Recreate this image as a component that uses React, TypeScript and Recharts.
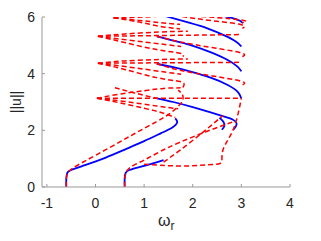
import { LineChart, Line, XAxis, YAxis, Label } from "recharts";

type Pt = [number, number];

const xTicks = [-1, 0, 1, 2, 3, 4];
const yTicks = [0, 2, 4, 6];

// stable branches (solid blue)
const blueLeft: Pt[] = [[-0.6, 0], [-0.6, 0.3], [-0.58, 0.5], [-0.5, 0.6], [-0.2, 0.78], [0.2, 1.03], [0.6, 1.32], [1.0, 1.62], [1.35, 1.9], [1.58, 2.1], [1.68, 2.28], [1.64, 2.42]];
const blueRight: Pt[] = [[0.6, 0], [0.6, 0.3], [0.62, 0.5], [0.7, 0.6], [0.9, 0.7], [1.15, 0.82], [1.4, 0.95]];
const blueLoop1: Pt[] = [[1.26, 3.13], [1.6, 3.0], [2.0, 2.82], [2.35, 2.64], [2.65, 2.48], [2.82, 2.38], [2.9, 2.25], [2.88, 2.12], [2.83, 2.02]];
const blueArc: Pt[] = [[2.55, 2.45], [2.63, 2.3], [2.65, 2.15], [2.6, 2.02]];
const blueLoop2: Pt[] = [[1.26, 4.35], [1.62, 4.22], [1.94, 4.08], [2.38, 3.85], [2.72, 3.6], [2.93, 3.35], [3.0, 3.12]];
const blueLoop3: Pt[] = [[1.26, 5.32], [1.6, 5.17], [1.94, 5.02], [2.35, 4.77], [2.7, 4.5], [2.92, 4.25], [3.0, 4.08]];
const blueLoop4: Pt[] = [[1.3, 6.1], [1.94, 5.79], [2.3, 5.6], [2.65, 5.35], [2.9, 5.12], [3.0, 4.96]];
const blueTop: Pt[] = [[2.5, 6.08], [2.8, 5.97], [2.97, 5.87], [3.03, 5.78]];

// unstable branches (dashed red)
const redLeft: Pt[] = [[-0.6, 0], [-0.6, 0.3], [-0.57, 0.5], [-0.48, 0.65], [-0.2, 0.93], [0.3, 1.4], [0.8, 1.88], [1.25, 2.3], [1.55, 2.62], [1.74, 2.92], [1.8, 3.12], [1.78, 3.28], [1.7, 3.42]];
const redRight: Pt[] = [[0.6, 0], [0.6, 0.3], [0.63, 0.5], [0.72, 0.7], [1.0, 0.95], [1.33, 1.25], [1.74, 1.58], [2.3, 1.97], [2.86, 2.32]];
const redSteep: Pt[] = [[1.4, 0.88], [1.74, 1.3], [2.2, 1.92], [2.62, 2.52]];
const redFloor: Pt[] = [[1.0, 0.8], [1.33, 0.77], [1.8, 0.74], [2.3, 0.78], [2.56, 0.83], [2.6, 0.95]];
const redClimb: Pt[] = [[2.6, 0.95], [2.62, 1.3], [2.72, 1.65], [2.83, 2.02], [2.92, 2.5], [3.0, 3.13]];

const tip1Level: Pt[] = [[0.03, 3.13], [3.0, 3.13]];
const tip1Upper: Pt[] = [[0.03, 3.13], [0.5, 3.28], [1.0, 3.4], [1.4, 3.48], [1.75, 3.5]];
const tip1Mid: Pt[] = [[0.03, 3.13], [0.6, 3.02], [1.26, 2.86], [1.7, 2.76]];
const tip1Lower: Pt[] = [[0.03, 3.13], [0.5, 2.97], [1.0, 2.78], [1.35, 2.63], [1.64, 2.45]];
const cusp1Feed: Pt[] = [[0.4, 3.5], [0.8, 3.32], [1.26, 3.13]];

const tip2Level: Pt[] = [[0.05, 4.37], [3.0, 4.4]];
const tip2Upper: Pt[] = [[0.05, 4.37], [0.6, 4.45], [1.3, 4.5], [1.9, 4.52]];
const tip2Mid: Pt[] = [[0.05, 4.37], [0.7, 4.23], [1.33, 4.08], [1.76, 3.98]];
const tip2Lower: Pt[] = [[0.05, 4.37], [0.6, 4.15], [1.26, 3.86], [1.74, 3.72], [1.82, 3.6], [1.78, 3.45]];
const cusp2Drop: Pt[] = [[1.26, 4.35], [1.74, 4.12], [2.4, 3.92], [3.0, 3.73], [3.02, 3.6]];

const tip3Level: Pt[] = [[0.05, 5.32], [3.0, 5.38]];
const tip3Upper: Pt[] = [[0.05, 5.32], [0.6, 5.4], [1.3, 5.47], [1.9, 5.5]];
const tip3Mid: Pt[] = [[0.05, 5.32], [0.7, 5.18], [1.33, 5.05], [1.76, 4.96]];
const tip3Lower: Pt[] = [[0.05, 5.32], [0.6, 5.1], [1.26, 4.85], [1.74, 4.72], [1.8, 4.6]];
const cusp3Drop: Pt[] = [[1.26, 5.32], [1.74, 5.12], [2.4, 4.92], [3.0, 4.73], [3.02, 4.6]];

const tip4Upper: Pt[] = [[0.37, 5.97], [1.0, 6.0], [1.5, 6.05], [2.0, 6.04], [2.97, 5.9], [3.02, 5.8]];
const tip4Mid: Pt[] = [[0.37, 5.97], [0.9, 5.88], [1.33, 5.8], [1.74, 5.74]];
const tip4Lower: Pt[] = [[0.37, 5.97], [0.9, 5.82], [1.33, 5.67], [1.74, 5.58]];
const cusp4Drop: Pt[] = [[1.3, 6.18], [1.74, 6.03], [2.4, 5.87], [3.0, 5.73], [3.02, 5.6]];

const stable = [blueLeft, blueRight, blueLoop1, blueArc, blueLoop2, blueLoop3, blueLoop4, blueTop];
const unstable = [
  redLeft, redRight, redSteep, redFloor, redClimb,
  tip1Level, tip1Upper, tip1Mid, tip1Lower, cusp1Feed,
  tip2Level, tip2Upper, tip2Mid, tip2Lower, cusp2Drop,
  tip3Level, tip3Upper, tip3Mid, tip3Lower, cusp3Drop,
  tip4Upper, tip4Mid, tip4Lower, cusp4Drop,
];

const toRows = (pts: Pt[]) => pts.map(([x, y]) => ({ x, y }));

const font = "'Liberation Sans', Arial, sans-serif";

export default function App() {
  return (
    <div style={{ position: "absolute", left: 0, top: 0, background: "#fff" }}>
      <LineChart width={321} height={241} margin={{ top: 17, right: 31, bottom: 24, left: 12 }}>
        <XAxis
          type="number"
          dataKey="x"
          domain={[-1.1, 4]}
          ticks={xTicks}
          allowDataOverflow
          stroke="#999"
          tickSize={-3}
          tickMargin={14}
          tick={{ fill: "#262626", fontSize: 14, fontFamily: font }}
          height={30}
        >
          <Label
            content={({ viewBox }: any) => (
              <text x={viewBox.x + viewBox.width / 2 - 8} y={226} fill="#262626" fontSize={16} fontFamily={font}>
                ω<tspan dy={4} fontSize={12}>r</tspan>
              </text>
            )}
          />
        </XAxis>
        <YAxis
          type="number"
          domain={[0, 6]}
          ticks={yTicks}
          allowDataOverflow
          stroke="#999"
          tickSize={-3}
          tickMargin={10}
          tick={{ fill: "#262626", fontSize: 14, fontFamily: font }}
          width={30}
        >
          <Label
            content={({ viewBox }: any) => (
              <text
                x={21}
                y={viewBox.y + viewBox.height / 2}
                transform={`rotate(-90 21 ${viewBox.y + viewBox.height / 2})`}
                textAnchor="middle"
                fill="#262626"
                fontSize={14}
                fontFamily={font}
              >
                ||u||
              </text>
            )}
          />
        </YAxis>
        {stable.map((pts, i) => (
          <Line
            key={"b" + i}
            data={toRows(pts)}
            dataKey="y"
            type="natural"
            stroke="#0000ff"
            strokeWidth={1.8}
            dot={false}
            activeDot={false}
            isAnimationActive={false}
          />
        ))}
        {unstable.map((pts, i) => (
          <Line
            key={"r" + i}
            data={toRows(pts)}
            dataKey="y"
            type="natural"
            stroke="#ff0000"
            strokeWidth={1.5}
            strokeDasharray="5 3"
            dot={false}
            activeDot={false}
            isAnimationActive={false}
          />
        ))}
      </LineChart>
    </div>
  );
}
